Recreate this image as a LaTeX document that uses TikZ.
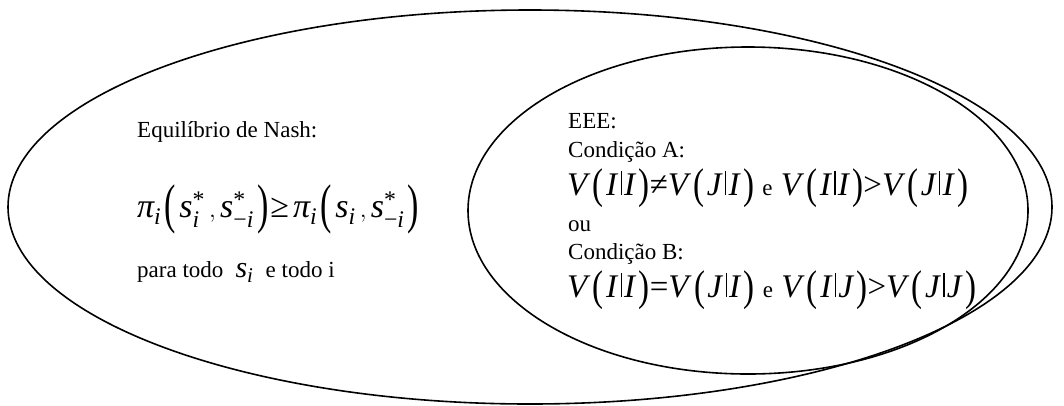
\documentclass[tikz,border=0pt]{standalone}
\usepackage{amsmath}
\usepackage{graphicx}
\usepackage{fontspec}
\setmainfont{Liberation Serif}
\usepackage{tikz}
\usetikzlibrary{positioning}

% pieces of the formulas, set with the text font
\newcommand{\itx}[1]{\textit{#1}}
\newcommand{\gap}{\hspace{0.07em}}
\newcommand{\lpar}[2]{\raisebox{#2}{\scalebox{1}[#1]{(}}}
\newcommand{\rpar}[2]{\raisebox{#2}{\scalebox{1}[#1]{)}}}
\newcommand{\cbar}{\gap\rule{0.035em}{0.72em}\gap}
\newcommand{\Vof}[2]{\itx{V}\gap\lpar{1.3}{-0.12em}\gap\itx{#1}\cbar\itx{#2}\gap\rpar{1.3}{-0.12em}}
\newcommand{\payoff}{\itx{π}_{\itx{i}}}
\newcommand{\sstar}[1]{\itx{s}^{\textup{*}}_{#1}}
\newcommand{\bl}{\hspace{0.1em}\lpar{1.6}{-0.15em}\hspace{0.1em}}
\newcommand{\br}{\hspace{0.1em}\rpar{1.6}{-0.15em}\hspace{0.05em}}

\tikzset{
  settext/.style={anchor=base west, inner sep=0pt, font=\fontsize{23}{27}\selectfont},
  bigform/.style={anchor=base west, inner sep=0pt, font=\fontsize{34}{40}\selectfont},
  condform/.style={anchor=base west, inner sep=0pt, font=\fontsize{33}{36}\selectfont},
  setline/.style={line width=1.6pt}
}

\begin{document}
\begin{tikzpicture}[x=1pt, y=-1pt]
\useasboundingbox (0,0) rectangle (1064,405);

% the two sets
\draw[setline] (530,207) ellipse [x radius=522, y radius=197];
\draw[setline] (748,210.5) ellipse [x radius=280, y radius=163.5];

% Nash equilibrium
\node[settext] (nashtitle) at (137,137) {Equilíbrio de Nash:};
\node[bigform] (nashform) at (137,217)
  {$\payoff\bl\sstar{\itx{i}}\,,\sstar{\textup{−}\itx{i}}\br\textup{≥}\,\payoff\bl\itx{s}_{\itx{i}}\,,\sstar{\textup{−}\itx{i}}\br$};
\node[settext] (nashall) at (137,277)
  {para todo\; {\fontsize{30}{30}\selectfont$\itx{s}_{\itx{i}}$}\; e todo i};

% EEE conditions
\node[settext] (eee) at (568,128) {EEE:};
\node[settext] (condA) at (568,157) {Condição A:};
\node[condform] (formA) at (567,195)
  {\Vof{I}{I}\textup{≠}\Vof{J}{I} {\fontsize{23}{23}\selectfont e} \Vof{I}{I}\textup{>}\Vof{J}{I}};
\node[settext] (ou) at (568,231) {ou};
\node[settext] (condB) at (568,259) {Condição B:};
\node[condform] (formB) at (567,297)
  {\Vof{I}{I}\textup{=}\Vof{J}{I} {\fontsize{23}{23}\selectfont e} \Vof{I}{J}\textup{>}\Vof{J}{J}};
\end{tikzpicture}
\end{document}
